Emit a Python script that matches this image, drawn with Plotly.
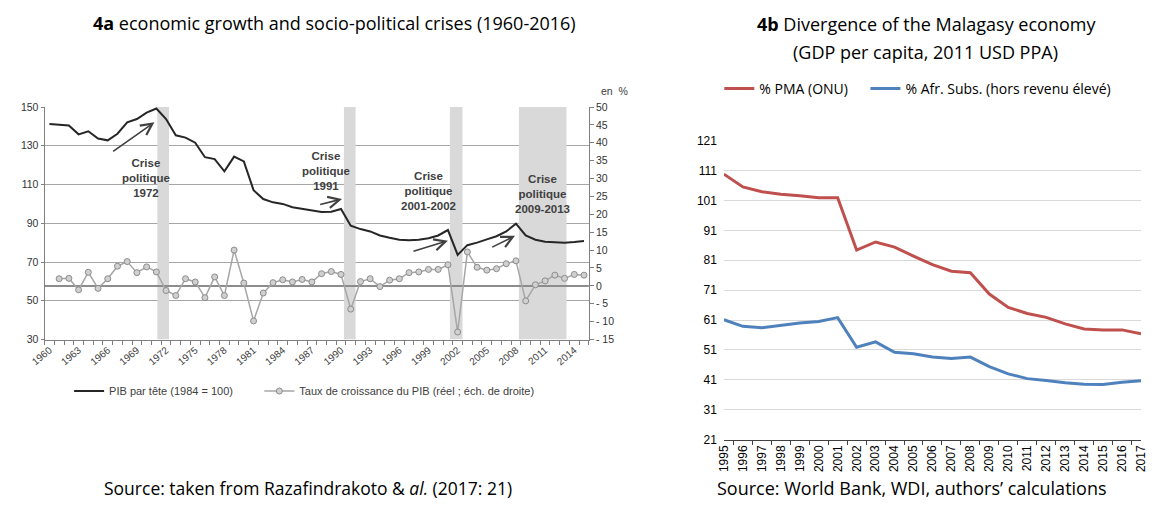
import plotly.graph_objects as go

# The page body keeps the browser's 8px margin, so the figure is 16px smaller
# than the window and every layout position below is given in window pixels.
WIN_W, WIN_H, OFF = 1156, 510, 8
W, H = WIN_W - 2 * OFF, WIN_H - 2 * OFF


def px(x):
    return min(1.0, max(0.0, (x - OFF) / W))


def py(y):
    return min(1.0, max(0.0, 1 - (y - OFF) / H))


# ---------------- data: panel 4a ----------------
years_a = list(range(1960, 2016))
pib = [141.2, 140.9, 140.5, 135.9, 137.5, 133.7, 132.8, 136.2, 142.1, 143.8,
       147.1, 149.2, 143.8, 135.4, 134.2, 131.6, 124.1, 123.1, 116.8, 124.4,
       121.9, 107.1, 102.5, 100.8, 100.0, 98.3, 97.5, 96.7, 95.8, 96.0,
       97.4, 88.7, 87.0, 85.8, 83.7, 82.5, 81.5, 81.2, 81.5, 82.3,
       83.7, 86.5, 73.7, 78.7, 80.0, 81.7, 83.3, 85.8, 89.8, 83.7,
       81.5, 80.5, 80.2, 80.0, 80.3, 80.8]
years_g = list(range(1961, 2016))
growth = [2.0, 2.1, -1.1, 3.8, -0.7, 2.0, 5.5, 6.8, 3.7, 5.3,
          3.9, -1.3, -2.7, 2.0, 1.1, -3.3, 2.5, -2.7, 10.0, 0.8,
          -9.8, -2.0, 0.9, 1.7, 1.1, 1.8, 1.1, 3.4, 4.0, 3.2,
          -6.5, 1.2, 2.0, -0.2, 1.6, 2.0, 3.7, 3.9, 4.6, 4.6,
          5.9, -12.9, 9.5, 5.2, 4.4, 4.8, 6.2, 7.0, -4.2, 0.3,
          1.4, 3.0, 2.1, 3.2, 3.0]

crisis_start = [1971.1, 1990.3, 2001.2, 2008.3]
crisis_end = [1972.3, 1991.5, 2002.5, 2013.2]
crisis_labels = ["Crise<br>politique<br>1972", "Crise<br>politique<br>1991",
                 "Crise<br>politique<br>2001-2002", "Crise<br>politique<br>2009-2013"]
crisis_label_x = [1969.9, 1988.5, 1999.0, 2010.7]
crisis_label_y = [113.5, 116.9, 106.4, 105.0]
arrow_tail_x = [1966.4, 1987.7, 1997.3, 2005.4]
arrow_tail_y = [126.6, 99.5, 75.3, 77.3]
arrow_head_x = [1970.8, 1990.1, 2001.0, 2007.9]
arrow_head_y = [142.1, 102.5, 81.0, 83.5]

x_range_a = [1959.5, 2015.5]
left_range = [30, 150]
right_range = [-15, 50]
left_ticks = [30, 50, 70, 90, 110, 130, 150]
right_ticks = list(range(-15, 55, 5))
right_ticktext = [("- %d" % abs(v)) if v < 0 else str(v) for v in right_ticks]
x_ticks_a = list(range(1960, 2016, 3))

# ---------------- data: panel 4b ----------------
years_b = [str(y) for y in range(1995, 2018)]
pma = [109.8, 105.5, 103.9, 103.1, 102.6, 101.9, 101.9, 84.4, 87.1, 85.4,
       82.4, 79.5, 77.3, 76.8, 69.7, 65.2, 63.2, 61.9, 59.7, 58.0,
       57.7, 57.7, 56.4]
afr = [61.1, 58.9, 58.4, 59.3, 60.0, 60.5, 61.8, 51.9, 53.7, 50.2,
       49.7, 48.6, 48.1, 48.6, 45.4, 43.0, 41.4, 40.8, 40.0, 39.5,
       39.4, 40.2, 40.7]
b_ticks = list(range(21, 122, 10))

ARIAL = "Liberation Sans, Arial, sans-serif"
CAL = "Open Sans, Carlito, Calibri, sans-serif"

fig = go.Figure()

# crisis bands (filled polygons on the left-axis scale)
band_x, band_y = [], []
for s, e in zip(crisis_start, crisis_end):
    band_x += [s, e, e, s, s, None]
    band_y += [left_range[0], left_range[0], left_range[1], left_range[1], left_range[0], None]
fig.add_trace(go.Scatter(
    x=band_x, y=band_y, mode="lines", fill="toself", fillcolor="#d9d9d9",
    line=dict(width=0, color="#d9d9d9"), showlegend=False, hoverinfo="skip",
    xaxis="x", yaxis="y"))

fig.add_trace(go.Scatter(
    x=years_a, y=pib, name="PIB par tête (1984 = 100)", mode="lines",
    line=dict(color="#262626", width=2), xaxis="x", yaxis="y", legend="legend"))

# zero line of the right axis
fig.add_trace(go.Scatter(
    x=x_range_a, y=[0, 0], mode="lines", line=dict(color="#8c8c8c", width=2),
    showlegend=False, hoverinfo="skip", xaxis="x", yaxis="y2"))

fig.add_trace(go.Scatter(
    x=years_g, y=growth, name="Taux de croissance du PIB (réel ; éch. de droite)",
    mode="lines+markers", line=dict(color="#a6a6a6", width=1.5),
    marker=dict(symbol="circle", size=6, color="#d0d0d0", line=dict(color="#8c8c8c", width=1)),
    xaxis="x", yaxis="y2", legend="legend3"))

fig.add_trace(go.Scatter(
    x=years_b, y=pma, name="% PMA (ONU)", mode="lines",
    line=dict(color="#c0504d", width=3), xaxis="x2", yaxis="y3", legend="legend2"))
fig.add_trace(go.Scatter(
    x=years_b, y=afr, name="% Afr. Subs. (hors revenu élevé)", mode="lines",
    line=dict(color="#4f81bd", width=3), xaxis="x2", yaxis="y3", legend="legend4"))

annotations = []
for lx, ly, t in zip(crisis_label_x, crisis_label_y, crisis_labels):
    annotations.append(dict(x=lx, y=ly, xref="x", yref="y", text="<b>%s</b>" % t,
                            showarrow=False, font=dict(family=ARIAL, size=11.5, color="#404040"),
                            align="center", xanchor="center", yanchor="middle"))
for tx, ty, hx, hy in zip(arrow_tail_x, arrow_tail_y, arrow_head_x, arrow_head_y):
    annotations.append(dict(x=hx, y=hy, ax=tx, ay=ty, xref="x", yref="y", axref="x", ayref="y",
                            text="", showarrow=True, arrowhead=5, arrowsize=1.4,
                            arrowwidth=1.6, arrowcolor="#404040"))

annotations += [
    dict(x=px(326), y=py(16), xref="paper", yref="paper", showarrow=False,
         text="<b>4a</b> economic growth and socio-political crises (1960-2016)",
         font=dict(family=CAL, size=18, color="#000"), xanchor="center", yanchor="middle"),
    dict(x=px(929), y=py(17), xref="paper", yref="paper", showarrow=False,
         text="<b>4b</b> Divergence of the Malagasy economy",
         font=dict(family=CAL, size=18, color="#000"), xanchor="center", yanchor="middle"),
    dict(x=px(928), y=py(46), xref="paper", yref="paper", showarrow=False,
         text="(GDP per capita, 2011 USD PPA)",
         font=dict(family=CAL, size=18, color="#000"), xanchor="center", yanchor="middle"),
    dict(x=px(611), y=py(86), xref="paper", yref="paper", showarrow=False,
         text="en  %", font=dict(family=ARIAL, size=10.5, color="#404040"),
         xanchor="center", yanchor="middle"),
    dict(x=px(299), y=py(495), xref="paper", yref="paper", showarrow=False,
         text="Source: taken from Razafindrakoto &amp; <i>al.</i> (2017: 21)",
         font=dict(family=CAL, size=17.5, color="#000"), xanchor="center", yanchor="middle"),
    dict(x=px(915), y=py(495), xref="paper", yref="paper", showarrow=False,
         text="Source: World Bank, WDI, authors’ calculations",
         font=dict(family=CAL, size=18, color="#000"), xanchor="center", yanchor="middle"),
]

legend_common = dict(orientation="h", xanchor="left", yanchor="middle", bgcolor="rgba(0,0,0,0)")

fig.update_layout(
    width=W, height=H, margin=dict(l=0, r=0, t=0, b=0),
    paper_bgcolor="white", plot_bgcolor="white",
    showlegend=True,
    annotations=annotations,
    xaxis=dict(domain=[px(30), px(585)], range=x_range_a, anchor="y",
               tickmode="array", tickvals=x_ticks_a, tickangle=-40, ticks="",
               minor=dict(ticks="outside", tick0=1959.5, dtick=1, ticklen=4, tickcolor="#808080"),
               showline=True, linecolor="#808080", linewidth=1, showgrid=False, zeroline=False,
               tickfont=dict(family=ARIAL, size=10, color="#404040")),
    yaxis=dict(domain=[py(342), py(102.7)], range=left_range, anchor="x",
               tickmode="array", tickvals=left_ticks, showgrid=True, gridcolor="#a6a6a6",
               showline=True, linecolor="#808080", ticks="outside", ticklen=3, tickcolor="#808080",
               zeroline=False, tickfont=dict(family=ARIAL, size=10.5, color="#333")),
    yaxis2=dict(overlaying="y", side="right", anchor="x", range=right_range,
                tickmode="array", tickvals=right_ticks, ticktext=right_ticktext,
                showgrid=False, showline=True, linecolor="#808080", ticks="outside",
                ticklen=4, tickcolor="#808080", zeroline=False,
                tickfont=dict(family=ARIAL, size=10.5, color="#333")),
    xaxis2=dict(domain=[px(722.7), px(1153)], anchor="y3", type="category",
                tickson="boundaries", ticks="outside", ticklen=4, tickcolor="#404040",
                tickangle=-90, showline=True, linecolor="#404040", linewidth=1,
                showgrid=False, zeroline=False,
                tickfont=dict(family=ARIAL, size=12, color="#000")),
    yaxis3=dict(domain=[py(445), py(137.3)], anchor="x2", range=[21, 121],
                tickmode="array", tickvals=b_ticks, showgrid=True, gridcolor="#d9d9d9",
                showline=False, ticks="", zeroline=False, ticklabelstandoff=6,
                tickfont=dict(family=ARIAL, size=12, color="#000")),
    legend=dict(x=px(55), y=py(395), font=dict(family=ARIAL, size=11, color="#404040"),
                **legend_common),
    legend3=dict(x=px(249), y=py(395), font=dict(family=ARIAL, size=11, color="#404040"),
                 **legend_common),
    legend2=dict(x=px(718), y=py(84), font=dict(family=CAL, size=14, color="#000"),
                 **legend_common),
    legend4=dict(x=px(867), y=py(84), font=dict(family=CAL, size=14, color="#000"),
                 **legend_common),
)

fig.write_html("out.html", config={"displayModeBar": False})
